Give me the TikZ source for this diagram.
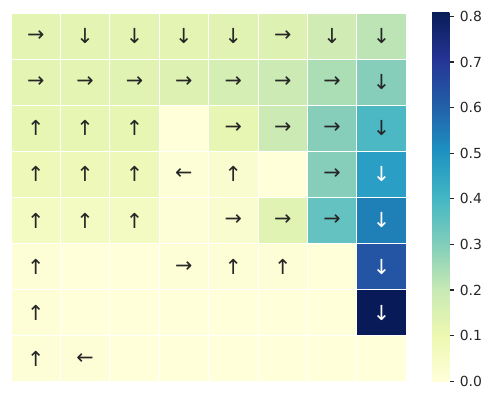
\documentclass[tikz,border=0pt]{standalone}
\usepackage{fontspec}
\usepackage{tikz}
\newfontfamily\arrowfont{DejaVu Sans}

% cell colours
\definecolor{y0}{RGB}{255,255,217}
\definecolor{y1}{RGB}{253,254,214}
\definecolor{y2}{RGB}{248,252,207}
\definecolor{y3}{RGB}{243,250,194}
\definecolor{y4}{RGB}{238,248,185}
\definecolor{y5}{RGB}{232,246,180}
\definecolor{y6}{RGB}{228,245,179}
\definecolor{y7}{RGB}{224,243,178}
\definecolor{y8}{RGB}{220,241,178}
\definecolor{y9}{RGB}{213,238,179}
\definecolor{g1}{RGB}{203,234,180}
\definecolor{g2}{RGB}{188,228,181}
\definecolor{g3}{RGB}{208,236,180}
\definecolor{g4}{RGB}{172,222,182}
\definecolor{t1}{RGB}{134,206,186}
\definecolor{t2}{RGB}{100,195,192}
\definecolor{t3}{RGB}{76,184,196}
\definecolor{b1}{RGB}{42,158,196}
\definecolor{b2}{RGB}{31,127,183}
\definecolor{b3}{RGB}{35,85,164}
\definecolor{b4}{RGB}{8,27,88}
\definecolor{ink}{RGB}{38,38,38}

% YlGnBu
\definecolor{m0}{HTML}{FFFFD9}
\definecolor{m1}{HTML}{EDF8B1}
\definecolor{m2}{HTML}{C7E9B4}
\definecolor{m3}{HTML}{7FCDBB}
\definecolor{m4}{HTML}{41B6C4}
\definecolor{m5}{HTML}{1D91C0}
\definecolor{m6}{HTML}{225EA8}
\definecolor{m7}{HTML}{253494}
\definecolor{m8}{HTML}{081D58}
\pgfdeclareverticalshading{ylgnbu}{100bp}{color(0bp)=(m0); color(25bp)=(m0);
  color(31.25bp)=(m1); color(37.5bp)=(m2); color(43.75bp)=(m3); color(50bp)=(m4);
  color(56.25bp)=(m5); color(62.5bp)=(m6); color(68.75bp)=(m7); color(75bp)=(m8);
  color(100bp)=(m8)}

\tikzset{
    cell/.style={draw=white, line width=0.8pt, minimum width=49.4pt,
        minimum height=46.1pt, inner sep=0pt,
        font=\arrowfont\fontsize{20.7}{24}\selectfont},
    cbar/.style={shading=ylgnbu, minimum width=17.3pt, minimum height=368.7pt,
        inner sep=0pt},
    tick/.style={ink, line width=1.1pt},
    ticklabel/.style={right, inner sep=0pt, xshift=4.9pt, text=ink,
        font=\arrowfont\fontsize{13.9}{16}\selectfont}
}

\begin{document}
\begin{tikzpicture}[x=1pt, y=-1pt]
    \useasboundingbox (0,0) rectangle (491,400);
    % Cells
    \foreach \c/\f/\a/\t in {1/y6/→/ink, 2/y6/↓/ink, 3/y6/↓/ink, 4/y6/↓/ink,
            5/y7/↓/ink, 6/y8/→/ink, 7/g3/↓/ink, 8/g2/↓/ink}
        \node[cell, fill=\f, text=\t] (r1c\c) at ({11+49.4*(\c-0.5)}, 36.05) {\a};
    \foreach \c/\f/\a/\t in {1/y6/→/ink, 2/y6/→/ink, 3/y7/→/ink, 4/y8/→/ink,
            5/y9/→/ink, 6/g1/→/ink, 7/g4/→/ink, 8/t1/↓/ink}
        \node[cell, fill=\f, text=\t] (r2c\c) at ({11+49.4*(\c-0.5)}, 82.15) {\a};
    \foreach \c/\f/\a/\t in {1/y5/↑/ink, 2/y5/↑/ink, 3/y5/↑/ink, 4/y0/{}/ink,
            5/y5/→/ink, 6/g1/→/ink, 7/t1/→/ink, 8/t3/↓/ink}
        \node[cell, fill=\f, text=\t] (r3c\c) at ({11+49.4*(\c-0.5)}, 128.25) {\a};
    \foreach \c/\f/\a/\t in {1/y4/↑/ink, 2/y4/↑/ink, 3/y4/↑/ink, 4/y1/←/ink,
            5/y2/↑/ink, 6/y0/{}/ink, 7/t1/→/ink, 8/b1/↓/white}
        \node[cell, fill=\f, text=\t] (r4c\c) at ({11+49.4*(\c-0.5)}, 174.35) {\a};
    \foreach \c/\f/\a/\t in {1/y3/↑/ink, 2/y3/↑/ink, 3/y3/↑/ink, 4/y1/{}/ink,
            5/y2/→/ink, 6/y7/→/ink, 7/t2/→/ink, 8/b2/↓/white}
        \node[cell, fill=\f, text=\t] (r5c\c) at ({11+49.4*(\c-0.5)}, 220.45) {\a};
    \foreach \c/\f/\a/\t in {1/y1/↑/ink, 2/y0/{}/ink, 3/y0/{}/ink, 4/y1/→/ink,
            5/y1/↑/ink, 6/y1/↑/ink, 7/y0/{}/ink, 8/b3/↓/white}
        \node[cell, fill=\f, text=\t] (r6c\c) at ({11+49.4*(\c-0.5)}, 266.55) {\a};
    \foreach \c/\f/\a/\t in {1/y1/↑/ink, 2/y0/{}/ink, 3/y0/{}/ink, 4/y0/{}/ink,
            5/y0/{}/ink, 6/y0/{}/ink, 7/y0/{}/ink, 8/b4/↓/white}
        \node[cell, fill=\f, text=\t] (r7c\c) at ({11+49.4*(\c-0.5)}, 312.65) {\a};
    \foreach \c/\f/\a/\t in {1/y1/↑/ink, 2/y1/←/ink, 3/y0/{}/ink, 4/y0/{}/ink,
            5/y0/{}/ink, 6/y0/{}/ink, 7/y0/{}/ink, 8/y0/{}/ink}
        \node[cell, fill=\f, text=\t] (r8c\c) at ({11+49.4*(\c-0.5)}, 358.75) {\a};
    % Colour bar
    \node[cbar] (bar) at (440.65, 196.65) {};
    \foreach \v in {0,...,8}
        \draw[tick] ([yshift=\v*45.6pt]bar.south east) -- ++(4.9,0)
            node[ticklabel] (t\v) {0.\v};
\end{tikzpicture}
\end{document}
